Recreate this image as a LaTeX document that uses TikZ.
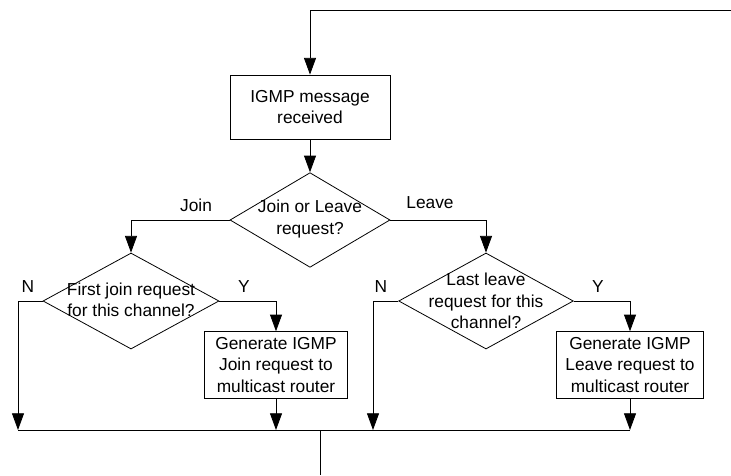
\documentclass[tikz,border=0pt]{standalone}
\usepackage{fontspec}
\setmainfont{Liberation Sans}
\usetikzlibrary{shapes.geometric,arrows.meta}
\begin{document}
\begin{tikzpicture}[
            x=0.75pt, y=-0.75pt,
            every node/.style={font=\fontsize{13}{16}\selectfont, align=center},
            procbox/.style={rectangle, draw, line width=0.6pt, inner sep=0pt},
            decision/.style={diamond, draw, line width=0.6pt, inner sep=0pt},
            dtext/.style={inner sep=0pt},
            lbl/.style={inner sep=0pt},
            arr/.style={draw, line width=0.6pt, -{Triangle[length=12.5pt, width=9pt]}},
            link/.style={draw, line width=0.6pt}
        ]
        \useasboundingbox (0,0) rectangle (731,475);

        % Boxes and decisions
        \node[procbox, minimum width=120pt, minimum height=48pt] (recv) at (310,107) {IGMP message\\received};
        \node[decision, minimum width=120pt, minimum height=71pt] (kind) at (310,220) {};
        \node[dtext] (kindt) at (310,219) {Join or Leave\\request?};
        \node[decision, minimum width=132pt, minimum height=72pt] (first) at (131,301) {};
        \node[dtext] (firstt) at (131,300) {First join request\\for this channel?};
        \node[decision, minimum width=131pt, minimum height=72pt] (last) at (486,301) {};
        \node[dtext] (lastt) at (486,301) {Last leave\\request for this\\channel?};
        \node[procbox, minimum width=107pt, minimum height=50pt] (gjoin) at (276,365) {Generate IGMP\\Join request to\\multicast router};
        \node[procbox, minimum width=110pt, minimum height=50pt] (gleave) at (630,365) {Generate IGMP\\Leave request to\\multicast router};

        % Labels
        \node[lbl] (ljoin) at (196,205) {Join};
        \node[lbl] (lleave) at (430,203) {Leave};
        \node[lbl] (nfirst) at (28,287) {N};
        \node[lbl] (yfirst) at (244,287) {Y};
        \node[lbl] (nlast) at (381,287) {N};
        \node[lbl] (ylast) at (598,287) {Y};

        % Free ends
        \coordinate (loopin) at (731,10);
        \coordinate (jfirst) at (18,430);
        \coordinate (jgjoin) at (276,430);
        \coordinate (jlast) at (373,430);
        \coordinate (jgleave) at (630,430);
        \coordinate (outtop) at (320,430);
        \coordinate (outbot) at (320,475);

        % Connectors
        \draw[arr] (loopin) -| (recv.north);
        \draw[arr] (recv.south) -- (kind.north);
        \draw[arr] (kind.west) -| (first.north);
        \draw[arr] (kind.east) -| (last.north);
        \draw[arr] (first.west) -| (jfirst);
        \draw[arr] (first.east) -| (gjoin.north);
        \draw[arr] (gjoin.south) -- (jgjoin);
        \draw[arr] (last.west) -| (jlast);
        \draw[arr] (last.east) -| (gleave.north);
        \draw[arr] (gleave.south) -- (jgleave);
        \draw[link] (jfirst) -- (jgleave);
        \draw[link] (outtop) -- (outbot);

        \end{tikzpicture}
\end{document}
